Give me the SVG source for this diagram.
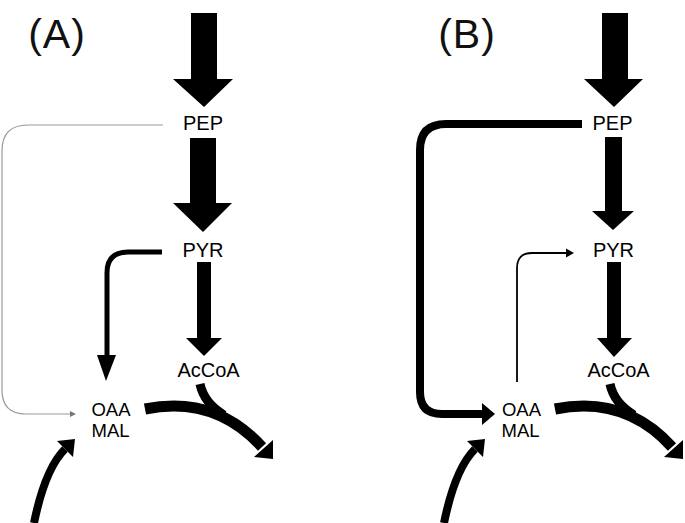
<svg xmlns="http://www.w3.org/2000/svg" width="685" height="523" viewBox="0 0 685 523">
<style>
.lbl{font-family:"Liberation Sans",Arial,sans-serif;font-size:20px;fill:#000;text-anchor:middle}
.sm{font-size:18.5px}
.pan{font-family:"Liberation Sans",Arial,sans-serif;font-size:41px;fill:#111;text-anchor:middle;letter-spacing:1px}
.ln{fill:none;stroke:#000}
.hd{fill:#000;stroke:none}
</style>
<rect width="685" height="523" fill="#fff"/>
<text class="pan" x="57" y="48">(A)</text>
<text class="pan" x="467" y="48">(B)</text>
<g id="connectors">
  <!-- Panel A -->
  <rect class="hd" x="191" y="13" width="26" height="67"/>
  <polygon class="hd" points="173,79 233,79 204,107"/>
  <rect class="hd" x="190" y="138" width="26" height="66"/>
  <polygon class="hd" points="173,203 232,203 203,232"/>
  <rect class="hd" x="197" y="262" width="14" height="77"/>
  <polygon class="hd" points="186,338 222,338 204,356"/>
  <path d="M163 125 H28 Q2 125 2 151 V390 Q2 414 26 414 H71" fill="none" stroke="#999" stroke-width="1.2"/>
  <polygon points="70,411 76,414 70,417" fill="#777"/>
  <path class="ln" d="M162 252 H128 Q107 252 107 273 V356" stroke-width="5"/>
  <polygon class="hd" points="97,355 116,355 106,381"/>
  <path class="ln" d="M34 523 Q45 469 65 449" stroke-width="8"/>
  <polygon class="hd" points="75,439 57,441 73,457"/>
  <path class="ln" d="M145 409 Q215 395 262 447" stroke-width="11"/>
  <path class="ln" d="M200 384 Q204 403 224 415" stroke-width="9"/>
  <polygon class="hd" points="273,440 273,459 254,457"/>
  <!-- Panel B -->
  <rect class="hd" x="602" y="13" width="26" height="67"/>
  <polygon class="hd" points="584,79 643,79 614,107"/>
  <rect class="hd" x="605" y="137" width="17" height="75"/>
  <polygon class="hd" points="592,211 634,211 613,230"/>
  <rect class="hd" x="607" y="262" width="14" height="77"/>
  <polygon class="hd" points="597,338 632,338 614,357"/>
  <path class="ln" d="M582 124 H446 Q420 124 420 150 V392 Q420 414 442 414 H483" stroke-width="8"/>
  <polygon class="hd" points="482,403 482,425 495,414"/>
  <path class="ln" d="M517 382 V268 Q517 253 532 253 H567" stroke-width="1.8"/>
  <polygon class="hd" points="566,248.5 574,253 566,257.5"/>
  <path class="ln" d="M444 523 Q455 469 475 449" stroke-width="8"/>
  <polygon class="hd" points="485,439 467,441 483,457"/>
  <path class="ln" d="M555 409 Q625 395 672 447" stroke-width="11"/>
  <path class="ln" d="M610 384 Q614 403 634 415" stroke-width="9"/>
  <polygon class="hd" points="683,440 683,459 664,457"/>
</g>
<g id="A-PEP"><text class="lbl" x="203" y="130">PEP</text></g>
<g id="A-PYR"><text class="lbl" x="203" y="257">PYR</text></g>
<g id="A-AcCoA"><text class="lbl" x="208.5" y="377">AcCoA</text></g>
<g id="A-OAA"><text class="lbl sm" x="111" y="416">OAA</text><text class="lbl sm" x="110.5" y="437">MAL</text></g>
<g id="B-PEP"><text class="lbl" x="612.5" y="130">PEP</text></g>
<g id="B-PYR"><text class="lbl" x="613.5" y="257">PYR</text></g>
<g id="B-AcCoA"><text class="lbl" x="618.5" y="377">AcCoA</text></g>
<g id="B-OAA"><text class="lbl sm" x="521.5" y="416">OAA</text><text class="lbl sm" x="520.5" y="437">MAL</text></g>
</svg>
